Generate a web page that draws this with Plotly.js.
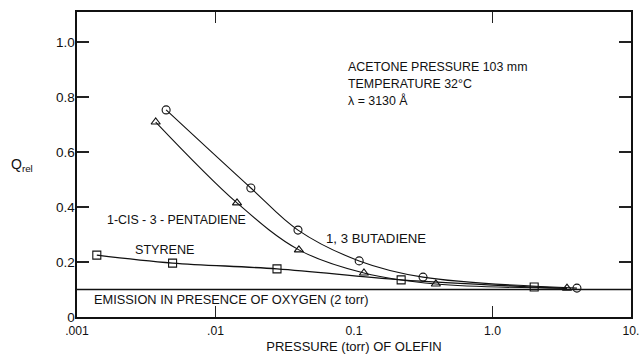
<!DOCTYPE html>
<html><head><meta charset="utf-8">
<script src="https://cdn.plot.ly/plotly-3.0.1.min.js"></script>
<style>body{margin:0;background:#fff}#c{width:640px;height:355px}</style>
</head><body><div id="c"></div>
<script>
const butX = [0.0044, 0.018, 0.0394, 0.109, 0.315, 4.07];
const butY = [0.753, 0.469, 0.316, 0.204, 0.145, 0.105];
const penX = [0.0037, 0.0143, 0.040, 0.118, 0.39, 3.45];
const penY = [0.709, 0.415, 0.244, 0.160, 0.120, 0.105];
const styX = [0.00139, 0.0049, 0.0278, 0.219, 2.0, 3.45];
const styY = [0.225, 0.196, 0.175, 0.135, 0.109, 0.104];
const styMarkX = styX.slice(0, 5), styMarkY = styY.slice(0, 5);
const oxygenX = [0.001, 10];
const oxygenY = [0.1, 0.1];
const xTickVals = [0.001, 0.01, 0.1, 1, 10];
const xTickText = ['.001', '.01', '0.1', '1.0', '10.'];
const xTickMarks = [0.01, 1];
const yTickVals = [0, 0.2, 0.4, 0.6, 0.8, 1.0];
const yTickText = ['0', '0.2', '0.4', '0.6', '0.8', '1.0'];

const F = 'Liberation Sans, Arial, sans-serif';
function mk(sym){return {symbol: sym, size: 8, color: '#111', line: {color: '#111', width: 1.1}};}
const traces = [
  {x: butX, y: butY, mode: 'lines', line: {shape: 'spline', color: '#111', width: 1.1}},
  {x: butX, y: butY, mode: 'markers', marker: mk('circle-open')},
  {x: penX, y: penY, mode: 'lines', line: {shape: 'spline', color: '#111', width: 1.1}},
  {x: penX, y: penY, mode: 'markers', marker: mk('triangle-up-open')},
  {x: styX, y: styY, mode: 'lines', line: {shape: 'spline', color: '#111', width: 1.4}},
  {x: styMarkX, y: styMarkY, mode: 'markers', marker: mk('square-open')},
  {x: oxygenX, y: oxygenY, xaxis: 'x2', mode: 'lines', line: {color: '#111', width: 1.3}}
];
const txt = {size: 12.4, color: '#111', family: F};
const axCommon = {showgrid: false, zeroline: false};
const layout = {
  width: 640, height: 355, showlegend: false,
  margin: {l: 77, r: 9, t: 12, b: 38},
  paper_bgcolor: '#fff', plot_bgcolor: '#fff',
  font: {family: F, color: '#111', size: 12},
  xaxis: Object.assign({type: 'log', range: [-3, 1], tickvals: xTickMarks, showticklabels: false,
    ticks: 'inside', ticklen: 11, tickcolor: '#222', tickwidth: 1.2,
    showline: true, linecolor: '#111', linewidth: 1.6, mirror: 'ticks',
    title: {text: 'PRESSURE (torr) OF OLEFIN', font: {size: 13, family: F}, standoff: 24}}, axCommon),
  xaxis2: Object.assign({type: 'log', range: [-3, 1], overlaying: 'x', side: 'bottom',
    tickvals: xTickVals, ticktext: xTickText, ticks: '', showline: false,
    ticklabelstandoff: 5, ticklabeloverflow: 'allow', tickfont: {size: 12.2, family: F}}, axCommon),
  yaxis: Object.assign({range: [0, 1.109], tickvals: yTickVals, ticktext: yTickText,
    ticks: 'inside', ticklen: 12, tickcolor: '#222', tickwidth: 1.2,
    showline: true, linecolor: '#111', linewidth: 1.6, mirror: 'ticks',
    ticklabelstandoff: -2, tickfont: {size: 13.5, family: F}}, axCommon),
  annotations: [
    {xref: 'paper', yref: 'paper', x: -0.1, y: 0.5, xanchor: 'center', yanchor: 'middle',
     text: 'Q<sub>rel</sub>', showarrow: false, font: {size: 14, family: F}},
    {xref: 'x', yref: 'y', x: Math.log10(0.0875), y: 0.909, xanchor: 'left', yanchor: 'middle',
     text: 'ACETONE PRESSURE 103 mm', showarrow: false, font: txt},
    {xref: 'x', yref: 'y', x: Math.log10(0.0875), y: 0.847, xanchor: 'left', yanchor: 'middle',
     text: 'TEMPERATURE 32°C', showarrow: false, font: txt},
    {xref: 'x', yref: 'y', x: Math.log10(0.0875), y: 0.789, xanchor: 'left', yanchor: 'middle',
     text: 'λ = 3130 Å', showarrow: false, font: txt},
    {xref: 'x', yref: 'y', x: Math.log10(0.00159), y: 0.353, xanchor: 'left', yanchor: 'middle',
     text: '1-CIS - 3 - PENTADIENE', showarrow: false, font: txt},
    {xref: 'x', yref: 'y', x: Math.log10(0.00254), y: 0.244, xanchor: 'left', yanchor: 'middle',
     text: 'STYRENE', showarrow: false, font: {size: 12.6, color: '#111', family: F}},
    {xref: 'x', yref: 'y', x: Math.log10(0.0607), y: 0.287, xanchor: 'left', yanchor: 'middle',
     text: '1, 3 BUTADIENE', showarrow: false, font: {size: 13.2, color: '#111', family: F}},
    {xref: 'x', yref: 'y', x: Math.log10(0.00128), y: 0.062, xanchor: 'left', yanchor: 'middle',
     text: 'EMISSION IN PRESENCE OF OXYGEN (2 torr)', showarrow: false, font: {size: 12.8, color: '#111', family: F}}
  ]
};
Plotly.newPlot('c', traces, layout, {staticPlot: true});
</script></body></html>
